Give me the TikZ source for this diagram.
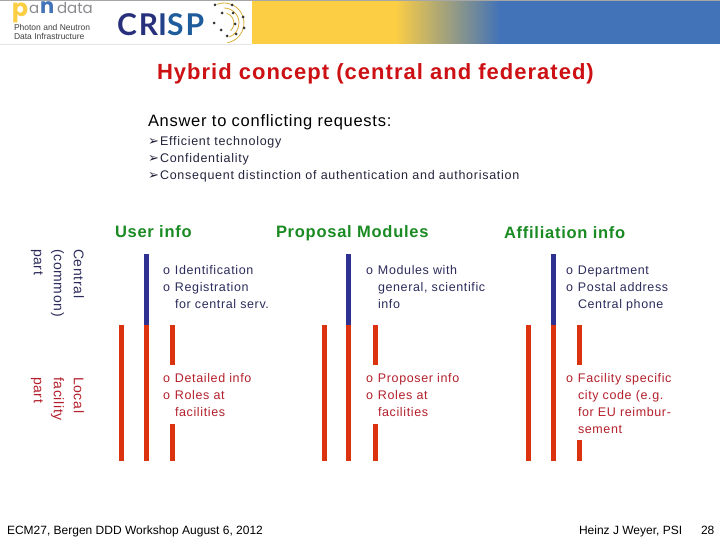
\documentclass[tikz,border=0pt]{standalone}
\usepackage{fontspec}
\setmainfont{Liberation Sans}
\newfontfamily\symbfont{DejaVu Sans}
\newfontfamily\logofont{Lato}
\newfontfamily\markfont{Poppins}
\usetikzlibrary{positioning}
\usepackage{xcolor}
\definecolor{bandyellow}{HTML}{FCCE44}
\definecolor{bandblue}{HTML}{4272B8}
\definecolor{titlered}{HTML}{CC1014}
\definecolor{headgreen}{HTML}{1A8A22}
\definecolor{centralblue}{HTML}{2E3192}
\definecolor{localred}{HTML}{DB3310}
\definecolor{centraltext}{HTML}{2C2C5C}
\definecolor{localtext}{HTML}{B4202C}
\definecolor{reqtext}{HTML}{24243C}
\definecolor{logogray}{HTML}{8A8C90}
\definecolor{logonavy}{HTML}{28307C}
\definecolor{logoteal}{HTML}{1F5C9C}
\newcommand{\itm}{\makebox[12pt][l]{o}}
\newcommand{\ind}{\hspace*{12pt}}
\newcommand{\arrowitem}{\makebox[12pt][l]{\symbfont\fontsize{13}{13}\selectfont ➢}}
\newcommand{\spaced}[1]{\addfontfeature{LetterSpace=#1}}
\tikzset{
  plain/.style={inner sep=0pt,outer sep=0pt,anchor=base west},
  headtext/.style={plain,text=headgreen,font={\fontsize{16.5}{18}\selectfont\bfseries\spaced{4.5}}},
  reqitem/.style={plain,text=reqtext,font={\fontsize{12.5}{14}\selectfont\spaced{5.9}}},
  bodytext/.style={inner sep=0pt,outer sep=0pt,anchor=north west,align=left,font={\fontsize{12.5}{17}\selectfont\spaced{5}}},
  centraltxt/.style={bodytext,text=centraltext},
  localtxt/.style={bodytext,text=localtext},
  sidetext/.style={inner sep=0pt,outer sep=0pt,anchor=north west,align=left,rotate=-90,font={\fontsize{14}{20}\selectfont\spaced{5}}},
  centralbar/.style={fill=centralblue},
  localbar/.style={fill=localred},
  foottext/.style={plain,text=black,font=\fontsize{12}{14}\selectfont},
  ring/.style={bandyellow!85!black,line width=0.8pt}
}
\begin{document}
\begin{tikzpicture}[x=1pt,y=-1pt]
\useasboundingbox (0,0) rectangle (720,540);

\fill[white] (0,0) rectangle (720,540);
\fill[bandyellow] (252,0) rectangle (395,44);
\shade[left color=bandyellow,right color=bandblue] (395,0) rectangle (500,44);
\fill[bandblue] (500,0) rectangle (720,44);
\fill[gray!70] (0,0) rectangle (720,1);
\fill[gray!20] (0,44) rectangle (252,44.6);

\node[plain,text=bandyellow,font=\markfont\bfseries\fontsize{24}{24}\selectfont] (logop) at (12,17) {p};
\node[plain,text=logogray,font=\markfont\fontsize{15}{15}\selectfont] (logoa) at (29,14) {a};
\node[plain,text=bandblue,font=\markfont\bfseries\fontsize{21}{21}\selectfont] (logon) at (40,14) {n};
\node[plain,text=logogray,font=\markfont\fontsize{15}{15}\selectfont] (logodata) at (57,14) {data};
\node[plain,text=black!75,font=\fontsize{8.5}{9}\selectfont] (logoline) at (14,31) {Photon and Neutron};
\node[plain,text=black!75,font=\fontsize{8.5}{9}\selectfont] (logoinfra) at (14,39.5) {Data Infrastructure};
\node[plain,font={\logofont\bfseries\fontsize{30}{30}\selectfont\spaced{7}}] (crisp) at (117,35.5) {\textcolor{logonavy}{CR}\textcolor{logonavy!60!logoteal}{I}\textcolor{logoteal}{SP}};

\draw[ring] (224,23)+(-110:20) arc (-110:80:20);
\draw[ring] (224,23)+(-90:15) arc (-90:70:15);
\draw[ring] (224,23)+(-75:10) arc (-75:50:10);
\foreach \px/\py in {215/5,232/5,222/13,233/13,243/17,235/24,214/23,244/28,221/30,236/34,227/36}
  \fill[black!80] (\px,\py) circle (1.5);

\node[plain,text=titlered,font={\fontsize{22}{24}\selectfont\bfseries\spaced{4.6}}] (title) at (157,80) {Hybrid concept (central and federated)};

\node[plain,font={\fontsize{16.5}{18}\selectfont\spaced{4.4}}] (answer) at (148,127) {Answer to conflicting requests:};
\node[reqitem] (req1) at (148,146) {\arrowitem Efficient technology};
\node[reqitem] (req2) at (148,162.5) {\arrowitem Confidentiality};
\node[reqitem] (req3) at (148,179.5) {\arrowitem Consequent distinction of authentication and authorisation};

\node[headtext] (userhead) at (115,237) {User info};
\node[headtext] (prophead) at (276,237) {Proposal Modules};
\node[headtext] (affhead) at (504,239) {Affiliation info};

\node[sidetext,text=centraltext] (central) at (84,249) {Central\\(common)\\part};
\node[sidetext,text=localtext] (local) at (84,377) {Local\\facility\\part};

\fill[localbar] (119,325) rectangle (124,461);
\fill[centralbar] (144,254) rectangle (149,325);
\fill[localbar] (144,325) rectangle (149,461);
\fill[localbar] (170,325) rectangle (175,365);
\fill[localbar] (170,424) rectangle (175,461);

\fill[localbar] (322,325) rectangle (327,461);
\fill[centralbar] (346,254) rectangle (351,325);
\fill[localbar] (346,325) rectangle (351,461);
\fill[localbar] (373,325) rectangle (378,365);
\fill[localbar] (373,424) rectangle (378,461);

\fill[localbar] (526,325) rectangle (531,461);
\fill[centralbar] (551,254) rectangle (556,325);
\fill[localbar] (551,325) rectangle (556,461);
\fill[localbar] (577,325) rectangle (582,365);
\fill[localbar] (577,440) rectangle (582,461);

\node[centraltxt] (usercentral) at (163,265.5) {\itm Identification\\\itm Registration\\\ind for central serv.};
\node[localtxt] (userlocal) at (163,373.5) {\itm Detailed info\\\itm Roles at\\\ind facilities};
\node[centraltxt] (propcentral) at (366,265.5) {\itm Modules with\\\ind general, scientific\\\ind info};
\node[localtxt] (proplocal) at (366,373.5) {\itm Proposer info\\\itm Roles at\\\ind facilities};
\node[centraltxt] (affcentral) at (566,265.5) {\itm Department\\\itm Postal address\\\ind Central phone};
\node[localtxt] (afflocal) at (566,373.5) {\itm Facility specific\\\ind city code (e.g.\\\ind for EU reimbur-\\\ind sement};

\node[foottext] (footleft) at (7,534) {ECM27, Bergen DDD Workshop August 6, 2012};
\node[foottext] (footright) at (579,534) {Heinz J Weyer, PSI};
\node[foottext] (footpage) at (701,534) {28};

\end{tikzpicture}
\end{document}
